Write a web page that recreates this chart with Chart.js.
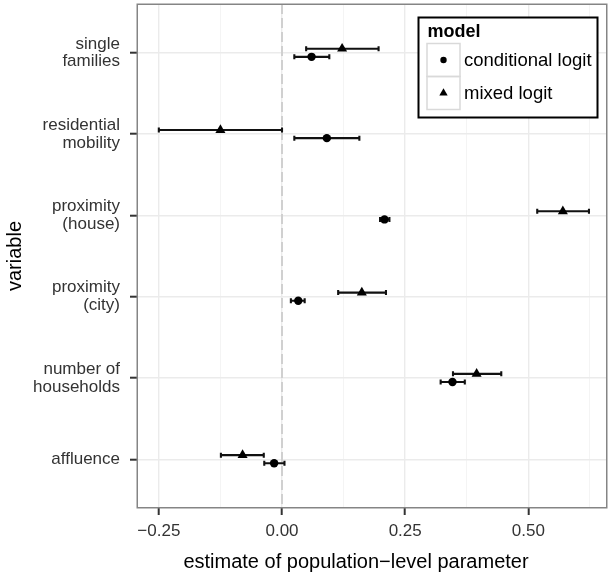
<!DOCTYPE html>
<html>
<head>
<meta charset="utf-8">
<script src="https://cdn.jsdelivr.net/npm/chart.js@4.4.1/dist/chart.umd.min.js"></script>
<style>
  html, body { margin: 0; padding: 0; background: #fff; }
  canvas { display: block; }
</style>
</head>
<body>
<canvas id="coefChart" width="608" height="575"></canvas>
<script>
// categories, top to bottom
const variables = [['single', 'families'], ['residential', 'mobility'], ['proximity', '(house)'], ['proximity', '(city)'], ['number of', 'households'], ['affluence']];

// conditional logit: estimate and interval
const condEst  = [0.060, 0.091, 0.208, 0.033, 0.346, -0.016];
const condLow  = [0.025, 0.025, 0.199, 0.018, 0.322, -0.036];
const condHigh = [0.096, 0.157, 0.218, 0.046, 0.371, 0.005];

// mixed logit: estimate and interval
const mixedEst  = [0.122, -0.125, 0.570, 0.162, 0.395, -0.080];
const mixedLow  = [0.049, -0.250, 0.518, 0.114, 0.347, -0.124];
const mixedHigh = [0.196, 0.000, 0.623, 0.211, 0.445, -0.037];

const xTicks = [-0.25, 0, 0.25, 0.5];
const xTickLabels = ['\u22120.25', '0.00', '0.25', '0.50'];
const xMinorTicks = [-0.125, 0.125, 0.375, 0.625];

const xTitle = 'estimate of population\u2212level parameter';

const dodge = 0.05;
const font = "'Liberation Sans', Arial, Helvetica, sans-serif";

const toPoints = (est, shift) => est.map((v, i) => ({ x: v, y: i + 1 + shift }));

// chart.js reserves room for edge labels; the ticks here sit well inside the panel
const noEdgePadding = s => {
  s.paddingTop = 0; s.paddingBottom = 0; s.paddingLeft = 0; s.paddingRight = 0;
};

// dashed zero line + horizontal error bars, under the points
const errorBars = {
  id: 'errorBars',
  beforeDatasetsDraw(chart) {
    const { ctx, chartArea, scales: { x, y } } = chart;
    ctx.save();
    const x0 = x.getPixelForValue(0);
    ctx.strokeStyle = '#d0d0d0';
    ctx.lineWidth = 2;
    ctx.setLineDash([10, 4]);
    ctx.beginPath();
    ctx.moveTo(x0, chartArea.top);
    ctx.lineTo(x0, chartArea.bottom);
    ctx.stroke();
    ctx.setLineDash([]);

    ctx.strokeStyle = '#111';
    ctx.lineWidth = 2.1;
    chart.data.datasets.forEach(ds => {
      ds.data.forEach((pt, i) => {
        const a = x.getPixelForValue(ds.errLow[i]);
        const b = x.getPixelForValue(ds.errHigh[i]);
        const py = y.getPixelForValue(pt.y);
        ctx.beginPath();
        ctx.moveTo(a, py); ctx.lineTo(b, py);
        ctx.moveTo(a, py - 2.5); ctx.lineTo(a, py + 2.5);
        ctx.moveTo(b, py - 2.5); ctx.lineTo(b, py + 2.5);
        ctx.stroke();
      });
    });
    ctx.restore();
  }
};

// grey panel border, x title (sits a little left of the panel centre) and boxed legend
const panelAndLegend = {
  id: 'panelAndLegend',
  afterDraw(chart) {
    const { ctx, chartArea } = chart;
    ctx.save();
    ctx.strokeStyle = '#858585';
    ctx.lineWidth = 1.5;
    ctx.strokeRect(chartArea.left + 0.25, chartArea.top + 0.25, chartArea.width - 0.5, chartArea.height - 0.5);

    ctx.fillStyle = '#000';
    ctx.font = '20px ' + font;
    ctx.textAlign = 'center';
    ctx.textBaseline = 'alphabetic';
    ctx.fillText(xTitle, (chartArea.left + chartArea.right) / 2 - 16, chart.height - 7.5);

    const w = 179, h = 100;
    const left = chartArea.right - 9.5 - w, top = chartArea.top + 13.5;
    ctx.fillStyle = '#fff';
    ctx.fillRect(left, top, w, h);
    ctx.strokeStyle = '#000';
    ctx.lineWidth = 2;
    ctx.strokeRect(left, top, w, h);

    ctx.fillStyle = '#000';
    ctx.font = 'bold 18px ' + font;
    ctx.textAlign = 'left';
    ctx.fillText('model', left + 9, top + 19.5);

    const key = 33, kx = left + 8.5;
    chart.data.datasets.forEach((ds, i) => {
      const ky = top + 26 + i * key;
      ctx.strokeStyle = '#d9d9d9';
      ctx.lineWidth = 1.5;
      ctx.strokeRect(kx, ky, key, key);
      ctx.fillStyle = '#000';
      Chart.helpers.drawPoint(ctx, {
        pointStyle: ds.pointStyle,
        radius: ds.legendRadius,
        rotation: 0,
        borderWidth: 0
      }, kx + key / 2, ky + key / 2);
      ctx.fillStyle = '#000';
      ctx.font = '18.5px ' + font;
      ctx.textBaseline = 'middle';
      ctx.fillText(ds.label, kx + key + 4, ky + key / 2 + 1);
    });
    ctx.restore();
  }
};

new Chart(document.getElementById('coefChart').getContext('2d'), {
  type: 'scatter',
  data: {
    datasets: [{
      label: 'conditional logit',
      data: toPoints(condEst, dodge),
      errLow: condLow,
      errHigh: condHigh,
      pointStyle: 'circle',
      pointRadius: 4.2,
      pointHoverRadius: 4.2,
      legendRadius: 3.2,
      pointBorderWidth: 0,
      backgroundColor: '#000',
      borderColor: '#000'
    }, {
      label: 'mixed logit',
      data: toPoints(mixedEst, -dodge),
      errLow: mixedLow,
      errHigh: mixedHigh,
      pointStyle: 'triangle',
      pointRadius: 5.8,
      pointHoverRadius: 5.8,
      legendRadius: 4.8,
      pointBorderWidth: 0,
      backgroundColor: '#000',
      borderColor: '#000'
    }]
  },
  options: {
    responsive: false,
    animation: false,
    layout: { autoPadding: false, padding: { top: 4, right: 1, left: 0, bottom: 0 } },
    plugins: {
      legend: { display: false },
      tooltip: { enabled: false }
    },
    scales: {
      x: {
        type: 'linear',
        min: -0.2943,
        max: 0.6596,
        afterBuildTicks: s => { s.ticks = xTicks.concat(xMinorTicks).sort((a, b) => a - b).map(v => ({ value: v })); },
        afterFit: s => { s.height = 67; noEdgePadding(s); },
        border: { display: false },
        grid: {
          color: c => xTicks.includes(c.tick.value) ? '#ebebeb' : '#f4f4f4',
          lineWidth: c => xTicks.includes(c.tick.value) ? 1.4 : 1,
          tickColor: c => xTicks.includes(c.tick.value) ? '#333' : 'rgba(0,0,0,0)',
          tickWidth: 2,
          tickLength: 7
        },
        ticks: {
          autoSkip: false,
          maxRotation: 0,
          padding: 6,
          color: '#333',
          font: { family: font, size: 17 },
          callback: v => { const i = xTicks.indexOf(v); return i >= 0 ? xTickLabels[i] : ''; }
        },
        title: { display: false }
      },
      y: {
        type: 'linear',
        reverse: true,
        min: 0.4,
        max: variables.length + 0.6,
        afterBuildTicks: s => { s.ticks = variables.map((v, i) => ({ value: i + 1 })); },
        afterFit: s => { s.width = 137; noEdgePadding(s); },
        border: { display: false },
        grid: {
          color: '#ebebeb',
          lineWidth: 1.4,
          tickColor: '#333',
          tickWidth: 2,
          tickLength: 7
        },
        ticks: {
          autoSkip: false,
          padding: 10,
          color: '#333',
          font: { family: font, size: 17, lineHeight: 1.05 },
          callback: v => variables[v - 1]
        },
        title: {
          display: true,
          text: 'variable',
          color: '#000',
          font: { family: font, size: 20 },
          padding: { top: 3, bottom: 0 }
        }
      }
    }
  },
  plugins: [errorBars, panelAndLegend]
});
</script>
</body>
</html>
